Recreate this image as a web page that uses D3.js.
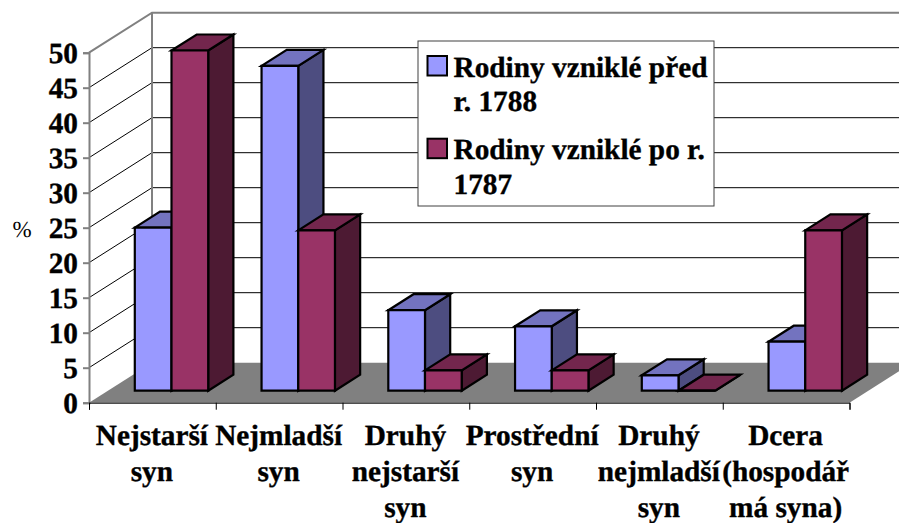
<!DOCTYPE html>
<html>
<head>
<meta charset="utf-8">
<script src="https://cdn.jsdelivr.net/npm/d3@7"></script>
<style>
body { margin: 0; background: #fff; }
svg { display: block; }
text { font-family: "Liberation Serif", serif; fill: #000; text-rendering: geometricPrecision; }
text.heavy { stroke: #000; stroke-width: 0.35; }
</style>
</head>
<body>
<svg id="drawing_region"></svg>
<script>
const categories = ["Nejstarší syn", "Nejmladší syn", "Druhý nejstarší syn", "Prostřední syn", "Druhý nejmladší syn", "Dcera (hospodář má syna)"];
const categoryLines = [
    ["Nejstarší", "syn"],
    ["Nejmladší", "syn"],
    ["Druhý", "nejstarší", "syn"],
    ["Prostřední", "syn"],
    ["Druhý", "nejmladší", "syn"],
    ["Dcera", "(hospodář", "má syna)"]
];
const seriesNames = ["before", "after"];
const before1788 = [23.3, 46.4, 11.5, 9.2, 2.2, 7];
const after1787 = [48.6, 22.9, 2.9, 2.9, 0, 22.9];
const yTicks = [0, 5, 10, 15, 20, 25, 30, 35, 40, 45, 50];
const legendLines = [
    ["Rodiny vzniklé před", "r. 1788"],
    ["Rodiny vzniklé po r.", "1787"]
];

const width = 899, height = 523;
const colors = {
    before: {front: "#9999ff", top: "#7373bf", side: "#4d4d80"},
    after: {front: "#993366", top: "#73264d", side: "#4d1a33"}
};

const svg = d3.select("#drawing_region").attr("width", width).attr("height", height);

// front edge of the floor, and how far the depth axis shifts things
const x = d3.scaleBand().domain(categories).range([89, 849.5]);
const y = d3.scaleLinear().domain([0, 50]).range([402.7, 52.7]);
const depthX = d3.scaleLinear().domain([0, 1]).range([0, 63]);
const depthY = d3.scaleLinear().domain([0, 1]).range([0, -40]);
const xSeries = d3.scaleBand().domain(seriesNames).range([26.9, 100.3]);

const pt = (px, v, z) => [px + depthX(z), y(v) + depthY(z)];
const poly = pts => pts.map(p => p.join(",")).join(" ");

const xEnd = x.range()[1], xStart = x.range()[0];

// left wall + back wall gridlines
const grid = svg.append("g");
yTicks.slice(1).forEach(t => {
    const a = pt(xStart, t, 0), b = pt(xStart, t, 1), c = pt(xEnd, t, 1);
    grid.append("polyline")
        .attr("points", poly([a, b, c]))
        .attr("fill", "none")
        .attr("stroke", t === 50 ? "#808080" : "#000")
        .attr("stroke-width", t === 50 ? 2 : 1);
});

// floor
svg.append("polygon")
    .attr("points", poly([pt(xStart, 0, 0), pt(xStart, 0, 1), pt(xEnd, 0, 1), pt(xEnd, 0, 0)]))
    .attr("fill", "#808080");

// wall verticals
svg.append("line")
    .attr("x1", pt(xStart, 0, 1)[0]).attr("x2", pt(xStart, 50, 1)[0])
    .attr("y1", pt(xStart, 0, 1)[1]).attr("y2", pt(xStart, 50, 1)[1])
    .attr("stroke", "#808080").attr("stroke-width", 2);

// bars
const barGroup = svg.append("g")
    .attr("stroke", "#000").attr("stroke-width", 2.2).attr("stroke-linejoin", "miter");

categories.forEach((cat, i) => {
    [before1788[i], after1787[i]].forEach((v, s) => {
        const name = seriesNames[s];
        const x0 = x(cat) + xSeries(name), x1 = x0 + xSeries.bandwidth();
        const z0 = 0.3, z1 = 0.7;
        barGroup.append("polygon")
            .attr("points", poly([pt(x1, 0, z0), pt(x1, 0, z1), pt(x1, v, z1), pt(x1, v, z0)]))
            .attr("fill", colors[name].side);
        barGroup.append("polygon")
            .attr("points", poly([pt(x0, v, z0), pt(x0, v, z1), pt(x1, v, z1), pt(x1, v, z0)]))
            .attr("fill", colors[name].top);
        barGroup.append("polygon")
            .attr("points", poly([pt(x0, 0, z0), pt(x1, 0, z0), pt(x1, v, z0), pt(x0, v, z0)]))
            .attr("fill", colors[name].front);
    });
});

// y axis
const yAxis = svg.append("g")
    .attr("transform", `translate(${xStart}, 0)`)
    .call(d3.axisLeft(y).tickValues(yTicks).tickSize(6).tickPadding(5));
yAxis.selectAll("path, line").attr("stroke", "#808080").attr("stroke-width", 2);
yAxis.selectAll("text")
    .attr("class", "heavy")
    .attr("font-size", 29.3).attr("font-weight", "bold")
    .style("font-family", '"Liberation Serif", serif');

// x axis
const xEdges = d3.scaleLinear().domain([0, categories.length]).range(x.range());
const xAxis = svg.append("g")
    .attr("transform", `translate(0, ${y(0)})`)
    .call(d3.axisBottom(xEdges).tickValues(d3.range(categories.length + 1)).tickSize(7).tickFormat(""));
xAxis.selectAll("path").attr("stroke", "#000").attr("stroke-width", 1);
xAxis.selectAll("line").attr("stroke", "#000").attr("stroke-width", 1);

categoryLines.forEach((lines, i) => {
    lines.forEach((line, j) => {
        svg.append("text")
            .attr("class", "heavy")
            .attr("x", x(categories[i]) + x.bandwidth() / 2 - 0.5)
            .attr("y", 444.6 + j * 36)
            .attr("text-anchor", "middle")
            .attr("font-size", 29.3)
            .attr("font-weight", "bold")
            .text(line);
    });
});

svg.append("text")
    .attr("x", 12.5).attr("y", 237)
    .attr("font-size", 23)
    .text("%");

// legend
const legend = svg.append("g");
legend.append("rect")
    .attr("x", 418).attr("y", 41).attr("width", 296).attr("height", 165)
    .attr("fill", "#fff").attr("stroke", "#404040").attr("stroke-width", 1);
legendLines.forEach((lines, i) => {
    const top = 56 + i * 82.7;
    legend.append("rect")
        .attr("x", 427.5).attr("y", top).attr("width", 19.5).attr("height", 19.5)
        .attr("fill", colors[seriesNames[i]].front)
        .attr("stroke", "#000").attr("stroke-width", 2);
    lines.forEach((line, j) => {
        legend.append("text")
            .attr("class", "heavy")
            .attr("x", 453.5).attr("y", top + 20.7 + j * 34.5)
            .attr("font-size", 29.3).attr("font-weight", "bold")
            .text(line);
    });
});
</script>
</body>
</html>
